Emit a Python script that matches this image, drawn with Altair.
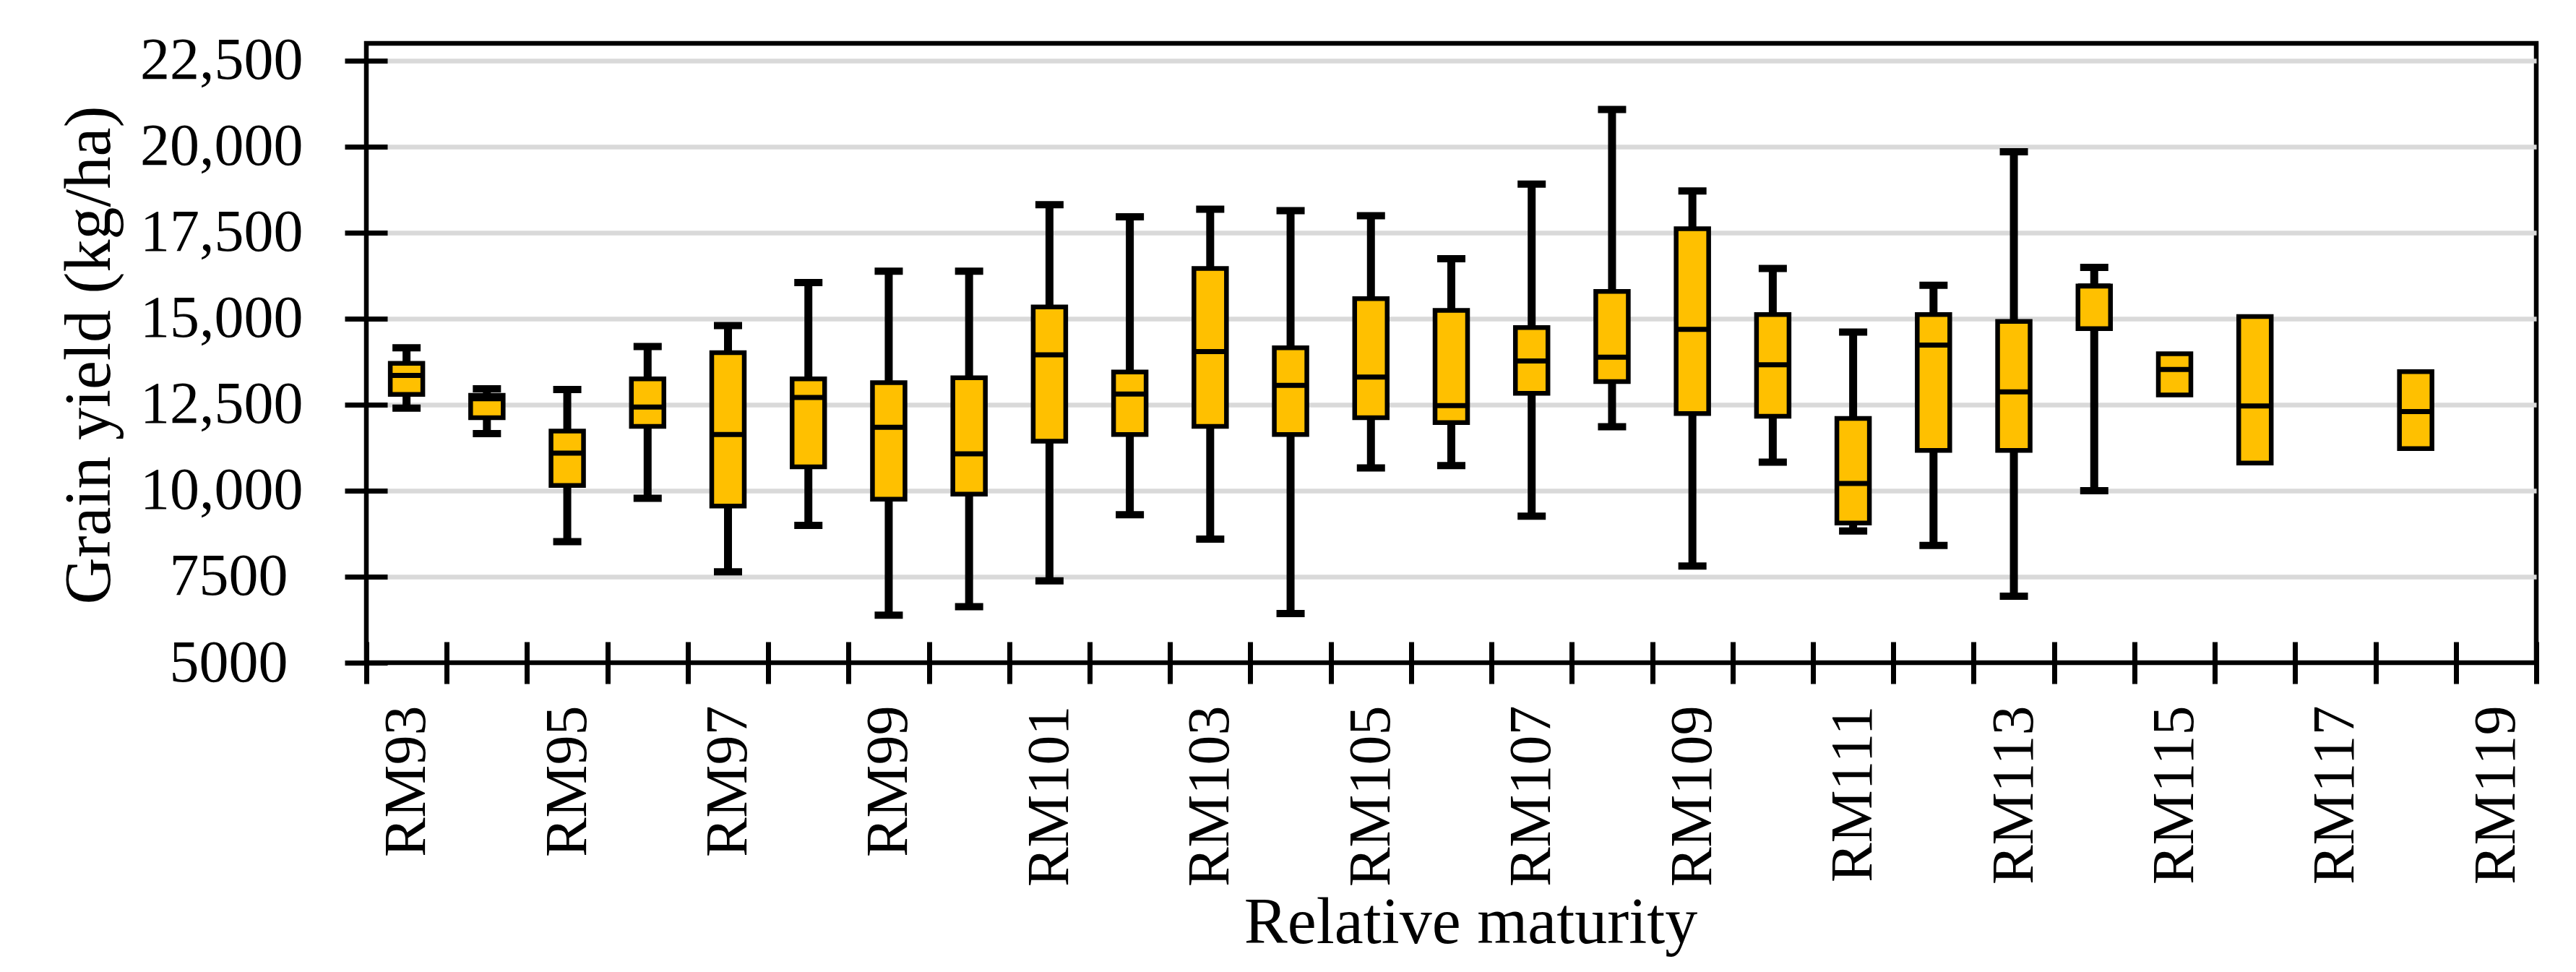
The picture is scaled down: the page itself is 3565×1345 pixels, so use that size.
import altair as alt
import pandas as pd

# ---- data ----
categories = ["RM%d" % v for v in range(93, 120)]

box_rm = ["RM93", "RM94", "RM95", "RM96", "RM97", "RM98", "RM99", "RM100",
          "RM101", "RM102", "RM103", "RM104", "RM105", "RM106", "RM107",
          "RM108", "RM109", "RM110", "RM111", "RM112", "RM113", "RM114",
          "RM115", "RM116", "RM118"]
whisker_low = [12400, 11660, 8520, 9780, 7640, 8990, 6380, 6630,
               7380, 9300, 8590, 6430, 10660, 10730, 9260,
               11860, 7810, 10830, 8830, 8410, 6930, 10000,
               None, None, None]
q1 = [12800, 12120, 10150, 11870, 9550, 10690, 9750, 9900,
      11440, 11630, 11870, 11630, 12120, 11980, 12830,
      13170, 12240, 12160, 9060, 11170, 11170, 14710,
      12780, 10800, 11220]
median = [13350, 12670, 11090, 12430, 11630, 12710, 11840, 11070,
          13950, 12810, 14040, 13060, 13300, 12470, 13770,
          13880, 14690, 13660, 10210, 14230, 12870, 15950,
          13520, 12460, 12300]
q3 = [13700, 12770, 11730, 13250, 14010, 13250, 13140, 13280,
      15340, 13450, 16460, 14150, 15580, 15240, 14740,
      15790, 17610, 15120, 12100, 15120, 14920, 15950,
      13980, 15060, 13460]
whisker_high = [14150, 12960, 12940, 14190, 14800, 16050, 16380, 16380,
                18310, 17960, 18180, 18140, 17990, 16740, 18910,
                21080, 18710, 16460, 14610, 15970, 19850, 16490,
                None, None, None]
y_ticks = [5000, 7500, 10000, 12500, 15000, 17500, 20000, 22500]

df = pd.DataFrame({"rm": box_rm, "lo": whisker_low, "q1": q1,
                   "med": median, "q3": q3, "hi": whisker_high})

FONT = "Liberation Serif"
BOX_FILL = "#FFC000"

x_enc = alt.X(
    "rm:N",
    scale=alt.Scale(domain=categories, paddingInner=0, paddingOuter=0),
    axis=alt.Axis(
        title="Relative maturity",
        domain=False,
        tickBand="extent",
        ticks=True,
        tickSize=58,
        tickWidth=7,
        tickColor="black",
        offset=-29,
        labelAngle=270,
        labelAlign="right",
        labelBaseline="middle",
        labelPadding=30,
        labelFont=FONT,
        labelFontSize=82,
        labelColor="black",
        labelLimit=0,
        labelOverlap=False,
        labelExpr="toNumber(replace(datum.label, 'RM', '')) % 2 == 1 ? datum.label : ''",
        titleFont=FONT,
        titleFontSize=90,
        titleFontWeight="normal",
        titleColor="black",
        titleLimit=0,
        titleX=1528,
        titleY=416,
        titleAlign="center",
        titleBaseline="alphabetic",
        grid=False,
    ),
)

y_scale = alt.Scale(domain=[5000, 23000], nice=False, zero=False)
y_axis = alt.Axis(
    title="Grain yield (kg/ha)",
    values=y_ticks,
    domain=False,
    tickSize=59,
    tickWidth=7,
    tickColor="black",
    offset=-29,
    labelFont=FONT,
    labelFontSize=82,
    labelColor="black",
    labelLimit=0,
    labelOverlap=False,
    labelPadding={"condition": {"test": "datum.value < 10000", "value": 79}, "value": 58},
    labelExpr="datum.value >= 10000 ? format(datum.value, ',') : format(datum.value, 'd')",
    grid=True,
    gridColor="#D9D9D9",
    gridWidth=6.5,
    gridOpacity={"condition": {"test": "datum.value == 5000", "value": 0}, "value": 1},
    titleFont=FONT,
    titleFontSize=90,
    titleFontWeight="normal",
    titleColor="black",
    titleLimit=0,
    titleX=-412,
    titleY=431,
    titleAngle=270,
    titleAlign="center",
    titleBaseline="middle",
)

base = alt.Chart(df).encode(x=x_enc)
valid = base.transform_filter("isValid(datum.lo)")

whiskers = valid.mark_rule(color="black", strokeWidth=11).encode(
    y=alt.Y("lo:Q", scale=y_scale, axis=y_axis),
    y2="hi:Q",
)
cap_low = valid.mark_tick(color="black", size=39, thickness=10, opacity=1).encode(
    y=alt.Y("lo:Q", scale=y_scale, axis=y_axis),
)
cap_high = valid.mark_tick(color="black", size=39, thickness=10, opacity=1).encode(
    y=alt.Y("hi:Q", scale=y_scale, axis=y_axis),
)
boxes = base.mark_bar(size=45, fill=BOX_FILL, stroke="black", strokeWidth=6.5,
                      opacity=1).encode(
    y=alt.Y("q1:Q", scale=y_scale, axis=y_axis),
    y2="q3:Q",
)
medians = base.mark_tick(color="black", size=45, thickness=7, opacity=1).encode(
    y=alt.Y("med:Q", scale=y_scale, axis=y_axis),
)

chart = alt.layer(whiskers, cap_low, cap_high, boxes, medians).properties(
    width=3003,
    height=857,
    autosize=alt.AutoSizeParams(type="none"),
    padding={"left": 499, "top": 52, "right": 40, "bottom": 420},
    background="white",
).configure_view(
    stroke="black",
    strokeWidth=6.5,
)

chart.save("out.html", embed_options={"renderer": "svg", "actions": False})
